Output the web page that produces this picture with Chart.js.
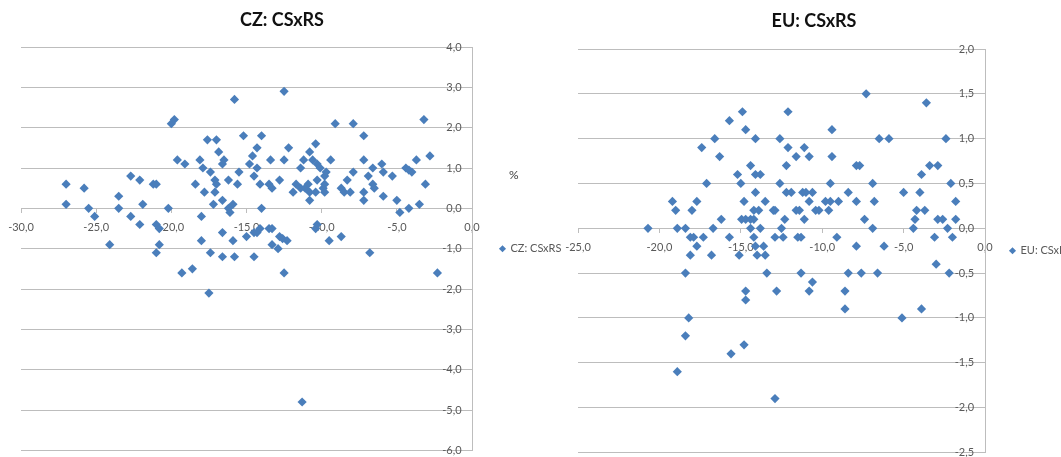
<!DOCTYPE html>
<html>
<head>
<meta charset="utf-8">
<script src="https://cdn.jsdelivr.net/npm/chart.js@4.4.0/dist/chart.umd.min.js"></script>
<style>
  html, body { margin: 0; padding: 0; background: #fff; }
  body { width: 1061px; height: 457px; overflow: hidden; position: relative; }
  canvas { position: absolute; top: 0; }
  #pct { position: absolute; left: 509px; top: 167px; font: 12px Lato, sans-serif; color: #404040; }
</style>
</head>
<body>
<canvas id="cz" width="563" height="460" style="left:0"></canvas>
<canvas id="eu" width="535" height="462" style="left:540px"></canvas>
<div id="pct">%</div>
<script>
// CZ: CSxRS  (x, y)
const czX = [-27.0, -27.0, -25.8, -25.5, -25.1, -22.7, -22.1, -23.5, -23.5, -21.9, -22.7, -22.1,
  -21.2, -21.0, -20.2, -20.0, -19.8, -19.6, -19.1, -18.4, -18.0, -18.1, -17.9, -17.8, -17.6,
  -17.4, -17.1, -17.0, -17.1, -17.2, -17.0, -16.85, -16.6, -16.5, -16.6, -16.2, -16.2, -16.1,
  -15.9, -15.8, -15.6, -15.5, -15.2, -14.8, -14.6, -14.5, -14.3, -14.3, -14.0, -14.1, -14.0,
  -13.4, -13.5, -13.3, -12.5, -12.2, -12.5, -12.8, -11.9, -11.7, -11.4, -11.4, -11.2, -11.1,
  -10.9, -10.8, -10.8, -10.8, -10.6, -10.4, -10.4, -10.3, -10.3, -10.1, -9.9, -9.8, -9.8, -9.8,
  -9.7, -9.4, -9.1, -8.7, -8.5, -8.3, -8.1, -7.9, -7.9, -7.2, -7.2, -7.2, -7.2, -6.9, -6.6, -6.6,
  -6.5, -6.0, -5.9, -5.9, -5.3, -5.0, -4.8, -4.4, -4.2, -4.0, -4.2, -3.7, -3.5, -3.2, -3.1, -2.8,
  -24.1, -21.0, -20.8, -20.8, -21.0, -19.3, -18.6, -18.0, -17.4, -17.5, -16.6, -16.6, -15.9,
  -15.8, -15.0, -14.5, -14.3, -14.1, -14.5, -13.5, -13.3, -13.3, -12.9, -12.8, -12.6, -12.3,
  -12.5, -11.3, -10.4, -10.3, -9.5, -8.7, -6.8, -2.3];
const czY = [0.6, 0.1, 0.5, 0.0, -0.2, 0.8, 0.7, 0.3, 0.0, 0.1, -0.2, -0.4,
  0.6, 0.6, 0.0, 2.1, 2.2, 1.2, 1.1, 0.6, -0.2, 1.2, 1.0, 0.4, 1.7,
  0.9, 0.7, 0.6, 0.4, 0.1, 1.7, 1.4, 1.1, 1.2, 0.2, 0.7, 0.0, -0.1,
  0.1, 2.7, 0.6, 0.9, 1.8, 1.1, 1.3, 0.8, 1.0, 1.5, 1.8, 0.6, 0.0,
  1.2, 0.6, 0.5, 2.9, 1.5, 1.2, 0.7, 0.4, 0.6, 1.0, 0.5, 1.2, 0.5,
  0.6, 0.4, 1.4, 0.2, 1.2, 1.6, 0.4, 0.7, 1.1, 1.0, 0.5, 0.6, 0.8, 0.4,
  0.9, 1.2, 2.1, 0.5, 0.4, 0.7, 0.4, 0.9, 2.1, 0.4, 0.2, 1.8, 1.2, 0.8, 1.0, 0.6,
  0.5, 1.1, 0.9, 0.3, 0.8, 0.2, -0.1, 1.0, 0.95, 0.9, 0.0, 1.2, 0.1, 2.2, 0.6, 1.3,
  -0.9, -0.4, -0.5, -0.9, -1.1, -1.6, -1.5, -0.8, -1.1, -2.1, -0.6, -1.2, -0.8,
  -1.2, -0.7, -0.6, -0.6, -0.5, -1.2, -0.5, -0.5, -0.9, -1.0, -0.7, -0.75, -0.8,
  -1.6, -4.8, -0.5, -0.4, -0.8, -0.7, -1.1, -1.6];

// EU: CSxRS  (x, y)
const euX = [-20.7, -19.2, -19.0, -18.9, -18.4, -18.0, -17.7, -17.4, -17.1, -16.6, -16.3, -16.2,
  -16.7, -15.7, -15.2, -15.0, -14.9, -14.7, -14.8, -14.95, -14.7, -14.4, -14.2, -14.4, -14.1,
  -14.1, -13.8, -14.1, -14.2, -13.9, -13.8, -13.5, -13.0, -12.9, -12.6, -12.6, -12.3, -12.5,
  -12.1, -12.1, -12.2, -12.2, -11.9, -11.6, -11.6, -11.4, -11.2, -11.0, -11.1, -11.1, -10.8,
  -10.8, -10.6, -10.4, -10.2, -9.5, -9.6, -9.5, -9.8, -9.4, -9.4, -9.0, -8.4, -7.9, -7.7, -7.9,
  -7.4, -7.3, -6.9, -6.8, -6.9, -6.5, -5.9, -5.0, -4.4, -4.3, -4.2, -4.0, -3.9, -3.7, -3.6,
  -3.4, -2.9, -2.9, -2.6, -2.4, -2.3, -2.1, -1.8, -1.8,
  -18.1, -17.9, -17.7, -18.1, -17.3, -16.8, -15.7, -15.1, -14.4, -14.2, -14.1, -13.6, -14.0,
  -13.5, -12.9, -12.4, -11.5, -18.4, -14.7, -14.7, -13.4, -12.8, -11.3, -18.2, -18.4, -14.8,
  -15.6, -18.9, -12.9, -11.3, -10.8, -10.6, -9.1, -8.6, -8.6, -8.4, -7.9, -7.6, -6.6, -6.2,
  -5.1, -3.9, -3.1, -3.0, -2.0, -2.2];
const euY = [0.0, 0.3, 0.2, 0.0, 0.0, 0.2, 0.3, 0.9, 0.5, 1.0, 0.8, 0.1,
  0.0, 1.2, 0.6, 0.5, 1.3, 1.1, 0.3, 0.1, 0.1, 0.1, 0.1, 0.7, 1.0,
  0.6, 0.6, 0.4, 0.2, 0.2, 0.0, 0.3, 0.2, 0.2, 1.0, 0.5, 0.1, 0.0,
  1.3, 0.9, 0.7, 0.4, 0.4, 0.8, 0.2, 0.2, 0.4, 0.4, 0.1, 0.9, 0.8,
  0.3, 0.4, 0.2, 0.2, 0.5, 0.2, 0.3, 0.3, 1.1, 0.8, 0.3, 0.4, 0.7, 0.7, 0.3,
  0.1, 1.5, 0.5, 0.3, 0.0, 1.0, 1.0, 0.4, 0.0, 0.1, 0.2, 0.4, 0.6, 0.2, 1.4,
  0.7, 0.7, 0.1, 0.1, 1.0, 0.0, 0.5, 0.3, 0.1,
  -0.1, -0.1, -0.2, -0.3, -0.1, -0.3, -0.1, -0.3, 0.0, -0.1, -0.2, -0.2, -0.3,
  -0.3, -0.1, -0.1, -0.1, -0.5, -0.7, -0.8, -0.5, -0.7, -0.5, -1.0, -1.2, -1.3,
  -1.4, -1.6, -1.9, -0.1, -0.7, -0.6, -0.1, -0.7, -0.9, -0.5, -0.2, -0.5, -0.5, -0.2,
  -1.0, -0.9, -0.1, -0.4, -0.1, -0.5];

const czXRange = [-30, 0, 5];
const czYRange = [-6, 4, 1];
const euXRange = [-25, 0, 5];
const euYRange = [-2.5, 2, 0.5];

const BLUE = '#4a7ebb';
const GRID = '#bdbdbd';
const LABEL = '#595959';
const tickFont = { family: 'Lato', size: 11 };
const fmt = (v) => Number(v).toFixed(1).replace('.', ',');

// title drawn at a fixed spot (Chart.js centres its own title over the legend too)
const fixedTitle = {
  id: 'fixedTitle',
  afterDraw(chart, args, opts) {
    const ctx = chart.ctx;
    ctx.save();
    ctx.font = 'bold 18px Lato';
    ctx.fillStyle = '#111';
    ctx.textAlign = 'center';
    ctx.textBaseline = 'middle';
    ctx.fillText(opts.text, opts.x, opts.y);
    ctx.restore();
  }
};

function makeChart(id, title, xs, ys, xr, yr, o) {
  const pts = xs.map((x, i) => ({ x: x, y: ys[i] }));
  return new Chart(document.getElementById(id), {
    type: 'scatter',
    data: {
      datasets: [{
        label: title,
        data: pts,
        backgroundColor: BLUE,
        borderColor: BLUE,
        pointStyle: 'rectRot',
        pointRadius: 4.6,
        pointBorderWidth: 0,
        pointHoverRadius: 4.6
      }]
    },
    plugins: [fixedTitle],
    options: {
      responsive: false,
      animation: false,
      layout: { padding: { left: o.padL, right: o.padR, top: o.padT, bottom: 8 } },
      plugins: {
        fixedTitle: { text: title, x: o.tX, y: o.tY },
        title: { display: false },
        legend: {
          position: 'right',
          fullSize: false,
          maxWidth: o.legW,
          labels: {
            usePointStyle: true,
            boxWidth: 5,
            boxHeight: 5,
            padding: o.legPad,
            color: LABEL,
            font: tickFont
          }
        },
        tooltip: { enabled: false }
      },
      scales: {
        x: {
          type: 'linear',
          position: { y: 0 },
          min: xr[0], max: xr[1],
          grid: { drawOnChartArea: false, drawTicks: true, tickLength: 4, color: GRID },
          border: { display: true, color: GRID },
          ticks: { stepSize: xr[2], padding: o.xPad, color: LABEL, font: tickFont,
                   maxRotation: 0, callback: fmt }
        },
        y: {
          type: 'linear',
          position: { x: 0 },
          min: yr[0], max: yr[1],
          grid: { color: GRID, tickLength: 4 },
          border: { display: true, color: GRID },
          ticks: { stepSize: yr[2], display: false }
        },
        // labels of the value axis sit a little left of the axis line
        yLab: {
          type: 'linear',
          axis: 'y',
          position: { x: o.labX },
          min: yr[0], max: yr[1],
          grid: { display: false },
          border: { display: false },
          ticks: { stepSize: yr[2], color: LABEL, font: tickFont, callback: fmt }
        }
      }
    }
  });
}

makeChart('cz', 'CZ: CSxRS', czX, czY, czXRange, czYRange,
  { padL: 21, padR: 1, padT: 47, tX: 282, tY: 20, legW: 90, legPad: 28, labX: -0.69, xPad: 8 });
makeChart('eu', 'EU: CSxRS', euX, euY, euXRange, euYRange,
  { padL: 38, padR: 0, padT: 49, tX: 274, tY: 21, legW: 90, legPad: 25, labX: -0.67, xPad: 9 });
</script>
</body>
</html>
